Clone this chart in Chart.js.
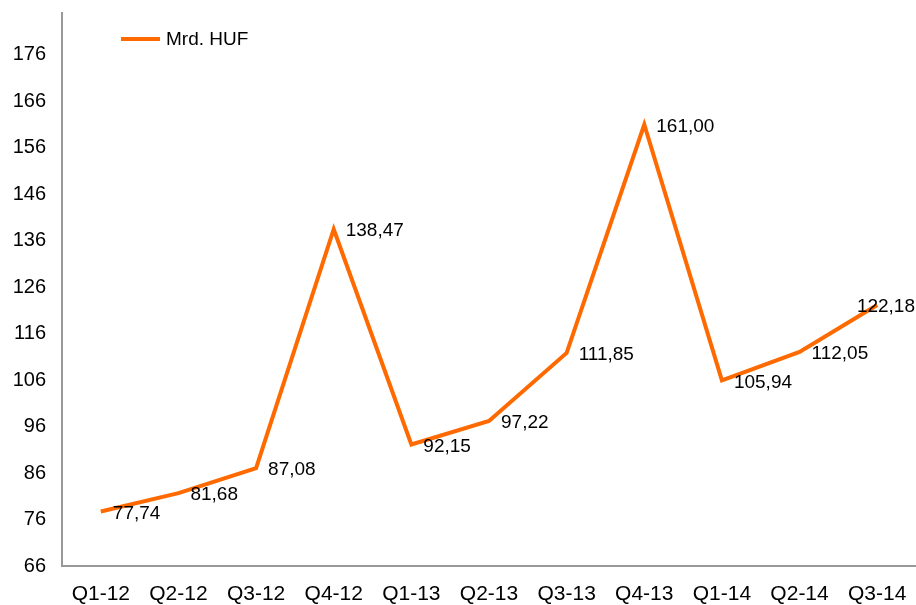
<!DOCTYPE html>
<html>
<head>
<meta charset="utf-8">
<script src="https://cdn.jsdelivr.net/npm/chart.js@4/dist/chart.umd.min.js"></script>
<style>
    html, body { margin: 0; padding: 0; background: #fff; }
    #wrap { width: 916px; height: 605px; position: relative; }
</style>
</head>
<body>
<div id="wrap"><canvas id="chart"></canvas></div>
<script>
// Quarterly values, Mrd. HUF
const quarters = ['Q1-12', 'Q2-12', 'Q3-12', 'Q4-12', 'Q1-13', 'Q2-13', 'Q3-13', 'Q4-13', 'Q1-14', 'Q2-14', 'Q3-14'];
const values = [77.74, 81.68, 87.08, 138.47, 92.15, 97.22, 111.85, 161.00, 105.94, 112.05, 122.18];
const yTicks = [66, 76, 86, 96, 106, 116, 126, 136, 146, 156, 166, 176];

const ORANGE = '#FF6A00';
const FONT = '"Liberation Sans", Arial, sans-serif';

// value labels next to each point, comma decimal
const valueLabels = {
    id: 'valueLabels',
    afterDatasetsDraw(chart) {
        const ctx = chart.ctx;
        const meta = chart.getDatasetMeta(0);
        ctx.save();
        ctx.font = '19px ' + FONT;
        ctx.fillStyle = '#000';
        ctx.textBaseline = 'middle';
        meta.data.forEach((pt, i) => {
            const text = values[i].toFixed(2).replace('.', ',');
            const w = ctx.measureText(text).width;
            let x = pt.x + 12;
            if (x + w > chart.width) x = chart.width - w - 1;
            ctx.textAlign = 'left';
            ctx.fillText(text, x, pt.y + 2);
        });
        ctx.restore();
    }
};

// small legend inside the plot, top left
const insideLegend = {
    id: 'insideLegend',
    afterDraw(chart) {
        const ctx = chart.ctx;
        const ds = chart.data.datasets[0];
        ctx.save();
        ctx.strokeStyle = ds.borderColor;
        ctx.lineWidth = 4;
        ctx.beginPath();
        ctx.moveTo(121, 39);
        ctx.lineTo(160, 39);
        ctx.stroke();
        ctx.font = '19px ' + FONT;
        ctx.fillStyle = '#000';
        ctx.textBaseline = 'middle';
        ctx.fillText(ds.label, 166, 40);
        ctx.restore();
    }
};

new Chart(document.getElementById('chart'), {
    type: 'line',
    data: {
        labels: quarters,
        datasets: [{
            label: 'Mrd. HUF',
            data: values,
            borderColor: ORANGE,
            backgroundColor: ORANGE,
            borderWidth: 4,
            tension: 0,
            pointRadius: 0,
            fill: false
        }]
    },
    options: {
        responsive: true,
        maintainAspectRatio: false,
        animation: false,
        layout: { padding: { top: 13, right: 0, left: 0, bottom: 0 } },
        plugins: {
            legend: { display: false },
            tooltip: { enabled: false }
        },
        scales: {
            x: {
                offset: true,
                grid: { display: false, drawTicks: false },
                border: { color: '#999', width: 2 },
                ticks: {
                    color: '#000',
                    font: { family: FONT, size: 21 },
                    padding: 16,
                    maxRotation: 0,
                    autoSkip: false
                },
                afterFit(axis) {
                    axis.height = 39;
                    axis.paddingLeft = 0;
                    axis.paddingRight = 0;
                }
            },
            y: {
                min: 66,
                max: 185,
                grid: { display: false, drawTicks: false },
                border: { color: '#999', width: 2 },
                ticks: {
                    color: '#000',
                    font: { family: FONT, size: 20 },
                    padding: 16
                },
                afterBuildTicks(axis) {
                    axis.ticks = yTicks.map(v => ({ value: v }));
                },
                afterFit(axis) {
                    axis.width = 62;
                    axis.paddingTop = 0;
                    axis.paddingBottom = 0;
                }
            }
        }
    },
    plugins: [valueLabels, insideLegend]
});
</script>
</body>
</html>
